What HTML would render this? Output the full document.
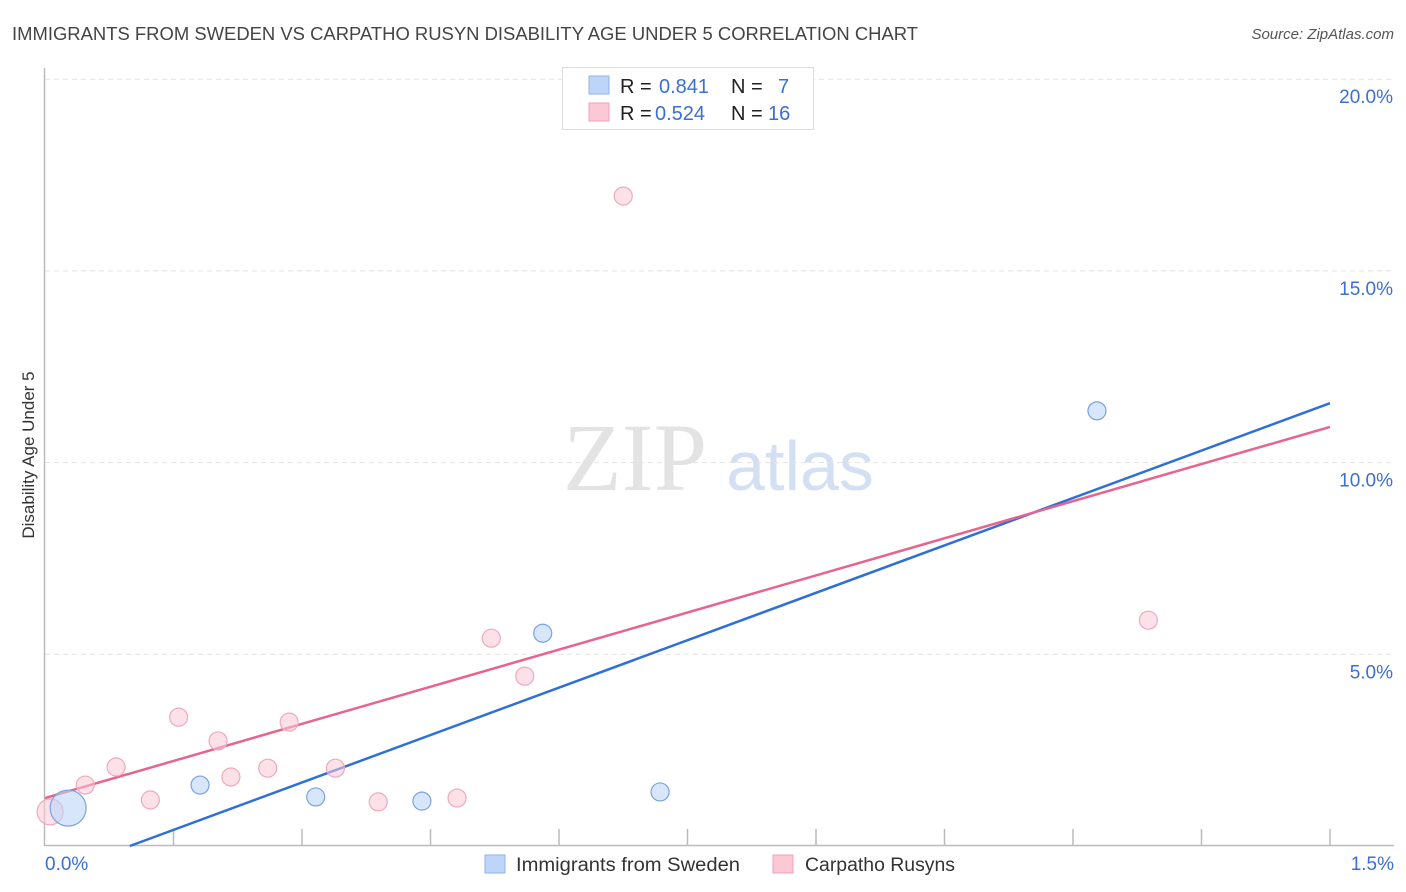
<!DOCTYPE html>
<html><head><meta charset="utf-8"><style>
body{margin:0;background:#fff;font-family:"Liberation Sans",sans-serif;}
svg{display:block}
</style></head><body>
<svg id="chart" width="1406" height="892">
<text x="12" y="40" font-size="18" fill="#444" textLength="906" lengthAdjust="spacingAndGlyphs">IMMIGRANTS FROM SWEDEN VS CARPATHO RUSYN DISABILITY AGE UNDER 5 CORRELATION CHART</text>
<text x="1394" y="39" font-size="15" fill="#555" font-style="italic" text-anchor="end">Source: ZipAtlas.com</text>
<text x="34" y="455" font-size="17" fill="#333" text-anchor="middle" transform="rotate(-90 34 455)">Disability Age Under 5</text>
<g><text x="635" y="490" font-size="96" font-family="Liberation Serif,serif" fill="#e3e3e3" text-anchor="middle">ZIP</text><text x="800" y="490" font-size="70" fill="#d3e0f3" text-anchor="middle">atlas</text></g>
<g id="grid"></g><g id="axes"></g><g id="lines"></g><g id="points"></g>
<g>
<rect x="562.5" y="67.5" width="251" height="62" fill="#fff" stroke="#ddd"/>
<rect x="589" y="76" width="20" height="18" fill="#bcd5f8" stroke="#8fb3e8"/>
<rect x="589" y="103" width="20" height="18" fill="#fbc8d6" stroke="#f0a0b8"/>
<g font-size="20">
<text x="620" y="93" fill="#222">R =</text><text x="659" y="93" fill="#3b6fd4">0.841</text><text x="731" y="93" fill="#222">N =</text><text x="778" y="93" fill="#3b6fd4">7</text>
<text x="620" y="120" fill="#222">R =</text><text x="655" y="120" fill="#3b6fd4">0.524</text><text x="731" y="120" fill="#222">N =</text><text x="768" y="120" fill="#3b6fd4">16</text>
</g>
</g>
<g>
<rect x="485" y="855" width="20" height="18" fill="#bcd5f8" stroke="#8fb3e8"/>
<text x="516" y="871" font-size="19" fill="#333" textLength="224" lengthAdjust="spacingAndGlyphs">Immigrants from Sweden</text>
<rect x="773" y="855" width="20" height="18" fill="#fbc8d6" stroke="#f0a0b8"/>
<text x="805" y="871" font-size="19" fill="#333" textLength="150" lengthAdjust="spacingAndGlyphs">Carpatho Rusyns</text>
</g>
</svg>
<script>
const yTicks=[5,10,15,20];
const yTickLabels=["5.0%","10.0%","15.0%","20.0%"];
const blueX=[0.027,0.181,0.316,0.440,0.581,0.718,1.228];
const blueY=[0.99,1.59,1.28,1.17,5.55,1.41,11.35];
const blueR=[18,9,9,9,9,9,9];
const pinkX=[0.006,0.047,0.083,0.123,0.156,0.202,0.217,0.260,0.285,0.339,0.389,0.481,0.521,0.560,0.675,1.288];
const pinkY=[0.89,1.59,2.06,1.20,3.36,2.74,1.80,2.03,3.23,2.03,1.15,1.25,5.42,4.43,16.95,5.89];
const pinkR=[13,9,9,9,9,9,9,9,9,9,9,9,9,9,9,9];
const blueLine=[[0.099,0],[1.5,11.55]];
const pinkLine=[[0,1.25],[1.5,10.93]];
const NS="http://www.w3.org/2000/svg";
const X=v=>45+v/1.5*1285;
const Y=v=>846-v/5*191.7;
function mk(p,t,a){const e=document.createElementNS(NS,t);for(const k in a)e.setAttribute(k,a[k]);document.getElementById(p).appendChild(e);return e;}
yTicks.forEach((t,i)=>{
 const g=mk('grid','line',{x1:45,x2:1394,y1:Y(t),y2:Y(t),stroke:'#e2e2e2','stroke-dasharray':'5,4'});
 
 
 const l=mk('grid','text',{x:1393,y:Y(t)+24,'font-size':19,fill:'#3b6fd4','text-anchor':'end'});
 l.textContent=yTickLabels[i];
 
 
});
const ax=mk('axes','path',{d:'M44.5,68 V845.5 H1394',fill:'none',stroke:'#bbb','stroke-width':1.5});


for(let i=1;i<=10;i++){const t=mk('axes','line',{x1:X(i*0.15),x2:X(i*0.15),y1:829,y2:846,stroke:'#bbb','stroke-width':1.5});
 
 }
[["0.0%",45,'start'],["1.5%",1394,'end']].forEach(a=>{const t=mk('axes','text',{x:a[1],y:870,'font-size':19,fill:'#3b6fd4','text-anchor':a[2]});t.textContent=a[0];
 
 });
function pts(xs,ys,rs,fill,stroke,name){xs.forEach((x,i)=>{const c=mk('points','circle',{cx:X(x),cy:Y(ys[i]),r:rs[i],fill:fill,stroke:stroke,'stroke-width':1.2});
 
 });}
pts(pinkX,pinkY,pinkR,'rgba(251,200,214,0.55)','#f0a8bd','rusyn-point');
pts(blueX,blueY,blueR,'rgba(188,213,248,0.6)','#7aa3e0','sweden-point');
const bl=mk('lines','line',{x1:X(blueLine[0][0]),y1:Y(blueLine[0][1]),x2:X(blueLine[1][0]),y2:Y(blueLine[1][1]),stroke:'#2f6fd8','stroke-width':2.5});


const pl=mk('lines','line',{x1:X(pinkLine[0][0]),y1:Y(pinkLine[0][1]),x2:X(pinkLine[1][0]),y2:Y(pinkLine[1][1]),stroke:'#e8648e','stroke-width':2.5});


</script>
</body></html>
